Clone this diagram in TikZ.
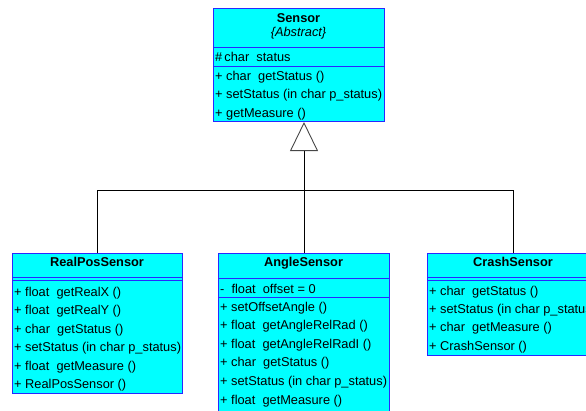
\documentclass[tikz,border=0pt]{standalone}
\usepackage{fontspec}
\setmainfont{Liberation Sans}
\usetikzlibrary{arrows.meta}
\definecolor{umlfill}{RGB}{0,255,255}
\definecolor{umlline}{RGB}{40,40,255}
\definecolor{tipgray}{RGB}{70,70,70}
\begin{document}
\begin{tikzpicture}[x=1pt,y=-1pt,
  classbox/.style={draw=umlline, fill=umlfill, line width=1pt, rectangle, inner sep=0pt, anchor=north west},
  sep/.style={draw=umlline, line width=1pt},
  txt/.style={anchor=base west, inner sep=0pt, font=\fontsize{12.8}{14}\selectfont},
  ttl/.style={anchor=base, inner sep=0pt, font=\fontsize{12.8}{14}\selectfont\bfseries},
  link/.style={draw=black, line width=0.9pt},
]
\useasboundingbox (0,0) rectangle (586,410);
\begin{scope}
\clip (0,0) rectangle (586,410);

% class frames
\node[classbox, minimum width=171pt, minimum height=113pt] (sensor) at (213,8) {};
\node[classbox, minimum width=170pt, minimum height=140pt] (real) at (12,253) {};
\node[classbox, minimum width=171pt, minimum height=160pt] (angle) at (218,253) {};
\node[classbox, minimum width=172pt, minimum height=102pt] (crash) at (427,253) {};

% compartment separators
\draw[sep] (sensor.west |- 0,47) -- (sensor.east |- 0,47);
\draw[sep] (sensor.west |- 0,66) -- (sensor.east |- 0,66);
\draw[sep] (real.west |- 0,277) -- (real.east |- 0,277);
\draw[sep] (real.west |- 0,280) -- (real.east |- 0,280);
\draw[sep] (angle.west |- 0,278) -- (angle.east |- 0,278);
\draw[sep] (angle.west |- 0,297) -- (angle.east |- 0,297);
\draw[sep] (crash.west |- 0,277) -- (crash.east |- 0,277);
\draw[sep] (crash.west |- 0,280) -- (crash.east |- 0,280);

% Sensor
\node[ttl] (sensor-name) at (298.5,22) {Sensor};
\node[txt, anchor=base, font=\fontsize{12.8}{14}\selectfont\itshape] (sensor-stereo) at (298.5,36) {\{Abstract\}};
\node[txt] (sensor-attr) at (215,61) {\#\,char\ \ status};
\foreach \t [count=\i] in {+ char\ \ getStatus (),
                           + setStatus (in char p\_status),
                           + getMeasure ()}
  \node[txt] (sensor-op\i) at ({215},{80+18.5*(\i-1)}) {\t};

% RealPosSensor
\node[ttl] (real-name) at (97,266) {RealPosSensor};
\foreach \t [count=\i] in {+ float\ \ getRealX (),
                           + float\ \ getRealY (),
                           + char\ \ getStatus (),
                           + setStatus (in char p\_status),
                           + float\ \ getMeasure (),
                           + RealPosSensor ()}
  \node[txt] (real-op\i) at ({14},{296+18.5*(\i-1)}) {\t};

% AngleSensor
\node[ttl] (angle-name) at (303.5,266) {AngleSensor};
\node[txt] (angle-attr) at (220,293) {-\ \ float\ \ offset = 0};
\foreach \t [count=\i] in {+ setOffsetAngle (),
                           + float\ \ getAngleRelRad (),
                           + float\ \ getAngleRelRadI (),
                           + char\ \ getStatus (),
                           + setStatus (in char p\_status),
                           + float\ \ getMeasure ()}
  \node[txt] (angle-op\i) at ({220},{311+18.6*(\i-1)}) {\t};

% CrashSensor
\node[ttl] (crash-name) at (513,266) {CrashSensor};
\foreach \t [count=\i] in {+ char\ \ getStatus (),
                           + setStatus (in char p\_status),
                           + char\ \ getMeasure (),
                           + CrashSensor ()}
  \node[txt] (crash-op\i) at ({429},{295+18.4*(\i-1)}) {\t};

% generalisation
\coordinate (hub) at (304,190);
\draw[link] (real.north) |- (hub);
\draw[link] (crash.north) |- (hub);
\draw[link] (hub |- angle.north) -- (hub);
\draw[link, -{Triangle[open, length=29pt, width=28pt, color=tipgray]}] (hub) -- (hub |- sensor.south);
\end{scope}
\end{tikzpicture}
\end{document}
